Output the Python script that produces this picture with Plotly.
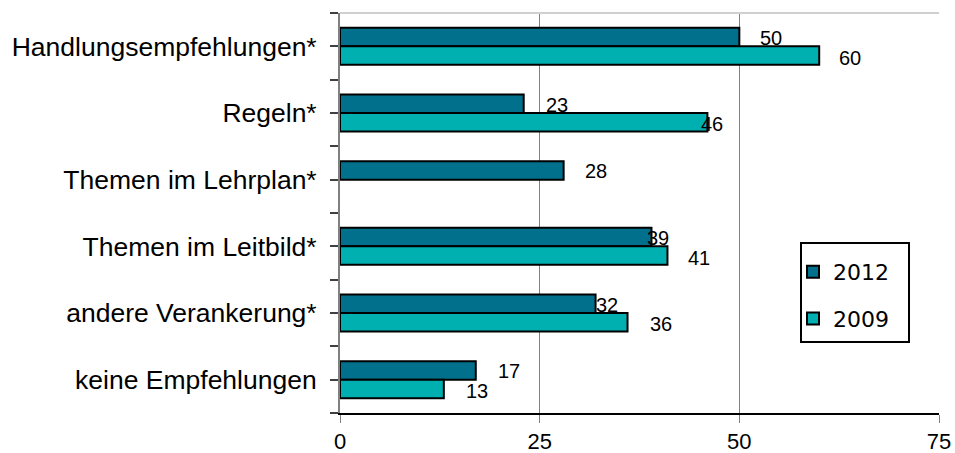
import plotly.graph_objects as go

categories = ["Handlungsempfehlungen*", "Regeln*", "Themen im Lehrplan*",
              "Themen im Leitbild*", "andere Verankerung*", "keine Empfehlungen"]
values_2012 = [50, 23, 28, 39, 32, 17]
values_2009 = [60, 46, None, 41, 36, 13]
x_ticks = [0, 25, 50, 75]

# label horizontal offsets (px) as placed in the original chart
shift_2012 = [19, 20, 19, -6, -2, 20]
shift_2009 = [18, -8, 0, 19, 20, 20]

col_2012 = "#00708C"
col_2009 = "#00AFB0"
BARGAP = 0.445

pos = list(range(len(categories)))

fig = go.Figure()
fig.add_trace(go.Bar(name="2012", y=pos, x=values_2012, orientation="h",
                     marker=dict(color=col_2012, line=dict(color="black", width=2)),
                     legendgroup="a"))
fig.add_trace(go.Bar(name="2009", y=pos, x=values_2009, orientation="h",
                     marker=dict(color=col_2009, line=dict(color="black", width=2)),
                     legendgroup="b"))

half = (1 - BARGAP) / 4
lab_font = dict(family="Liberation Sans, Arial", size=20, color="black")
annotations = []
for i, (v, s) in enumerate(zip(values_2012, shift_2012)):
    if v is not None:
        annotations.append(dict(x=v, y=i - half, text=str(v), showarrow=False,
                                xanchor="left", yanchor="middle", xshift=s, yshift=-1,
                                font=lab_font))
for i, (v, s) in enumerate(zip(values_2009, shift_2009)):
    if v is not None:
        annotations.append(dict(x=v, y=i + half, text=str(v), showarrow=False,
                                xanchor="left", yanchor="middle", xshift=s, yshift=-2,
                                font=lab_font))

tickvals = [p / 2 - 0.5 for p in range(2 * len(categories) + 1)]
ticktext = []
for t in tickvals:
    if float(t).is_integer() and 0 <= int(t) < len(categories):
        ticktext.append(categories[int(t)])
    else:
        ticktext.append("")

fig.update_layout(
    width=955, height=453,
    margin=dict(l=340, r=16, t=13, b=40, autoexpand=False),
    paper_bgcolor="white", plot_bgcolor="white",
    barmode="group", bargap=BARGAP, bargroupgap=0,
    font=dict(family="Liberation Sans, Arial", color="black"),
    annotations=annotations,
    showlegend=True,
    legend=dict(x=(793 - 340) / 599, y=(413 - 251) / 400, xanchor="left", yanchor="top",
                bgcolor="rgba(0,0,0,0)", borderwidth=0,
                font=dict(family="DejaVu Sans, Verdana", size=22, color="black"),
                traceorder="grouped", tracegroupgap=15, itemwidth=30),
    shapes=[
        dict(type="line", xref="paper", yref="paper", x0=0, x1=1, y0=1, y1=1,
             line=dict(color="#d0d0d0", width=2)),
        dict(type="rect", xref="paper", yref="paper",
             x0=(801 - 340) / 599, x1=(909 - 340) / 599,
             y0=(413 - 342) / 400, y1=(413 - 243) / 400,
             line=dict(color="black", width=2), fillcolor="rgba(0,0,0,0)", layer="above"),
    ],
)
fig.update_xaxes(range=[0, 75], tickvals=x_ticks, ticktext=[str(t) for t in x_ticks],
                 showgrid=True, gridcolor="#808080", gridwidth=1,
                 showline=True, linecolor="black", linewidth=2,
                 ticks="outside", ticklen=8, tickcolor="#808080", tickwidth=1,
                 ticklabelstandoff=0, automargin=False,
                 tickfont=dict(family="Liberation Sans, Arial", size=22, color="black"),
                 zeroline=False, fixedrange=True)
fig.update_yaxes(range=[len(categories) - 0.5, -0.5], tickvals=tickvals, ticktext=ticktext,
                 showgrid=False, showline=True, linecolor="#808080", linewidth=2,
                 ticks="outside", ticklen=8, tickcolor="#404040", tickwidth=2,
                 ticklabelstandoff=8, automargin=False,
                 tickfont=dict(family="Liberation Sans, Arial", size=26.5, color="black"),
                 zeroline=False, fixedrange=True)

fig.write_html("out.html")
